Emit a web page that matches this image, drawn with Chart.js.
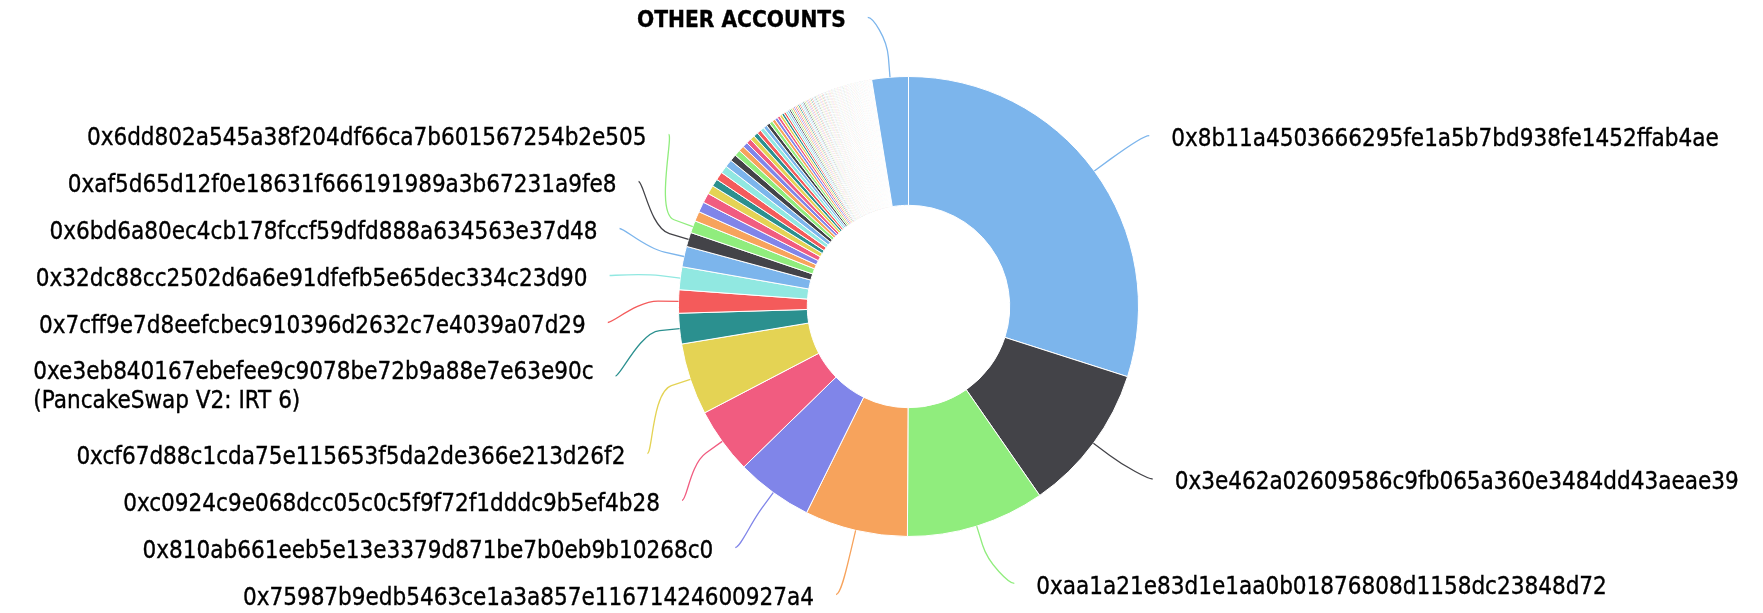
<!DOCTYPE html>
<html>
<head>
<meta charset="utf-8">
<script src="https://cdn.jsdelivr.net/npm/chart.js@4"></script>
<style>
  html, body { margin: 0; padding: 0; background: #fff; }
  canvas { display: block; }
</style>
</head>
<body>
<canvas id="holdersChart" width="1763" height="613"></canvas>
<script>
// top holders, clockwise from 12 o'clock (share of supply, %)
const accounts = [
    '0x8b11a4503666295fe1a5b7bd938fe1452ffab4ae',
    '0x3e462a02609586c9fb065a360e3484dd43aeae39',
    '0xaa1a21e83d1e1aa0b01876808d1158dc23848d72',
    '0x75987b9edb5463ce1a3a857e11671424600927a4',
    '0x810ab661eeb5e13e3379d871be7b0eb9b10268c0',
    '0xc0924c9e068dcc05c0c5f9f72f1dddc9b5ef4b28',
    '0xcf67d88c1cda75e115653f5da2de366e213d26f2',
    ['0xe3eb840167ebefee9c9078be72b9a88e7e63e90c', '(PancakeSwap V2: IRT 6)'],
    '0x7cff9e7d8eefcbec910396d2632c7e4039a07d29',
    '0x32dc88cc2502d6a6e91dfefb5e65dec334c23d90',
    '0x6bd6a80ec4cb178fccf59dfd888a634563e37d48',
    '0xaf5d65d12f0e18631f666191989a3b67231a9fe8',
    '0x6dd802a545a38f204df66ca7b601567254b2e505'
];
const accountShares = [29.89, 10.39, 9.72, 7.22, 5.39, 4.64, 5.03, 2.14, 1.63, 1.60, 1.44, 1.00, 0.86];

// smaller holders without a label
const minorShares = [
    0.69, 0.72, 0.69, 0.61, 0.53, 0.58, 0.53, 0.53, 0.47, 0.42,
    0.39, 0.36, 0.35, 0.33, 0.31, 0.29, 0.28, 0.26, 0.25, 0.24,
    0.22, 0.21, 0.19, 0.18, 0.17, 0.15, 0.14, 0.13
];
const tailShares = [
    0.12, 0.12, 0.12, 0.11, 0.11, 0.11, 0.11, 0.10, 0.10, 0.10,
    0.10, 0.10, 0.09, 0.09, 0.09, 0.09, 0.09, 0.09, 0.09, 0.08,
    0.08, 0.08, 0.08, 0.08, 0.08, 0.08, 0.08, 0.08, 0.07, 0.07,
    0.07, 0.07, 0.07, 0.07, 0.07, 0.07, 0.06, 0.06, 0.06, 0.06,
    0.06, 0.06, 0.06, 0.06, 0.06, 0.06, 0.06, 0.06, 0.06, 0.06,
    0.06, 0.06, 0.06, 0.06, 0.06, 0.05, 0.05, 0.05, 0.05, 0.05,
    0.05, 0.05, 0.05, 0.05, 0.05, 0.05, 0.05, 0.05, 0.05, 0.05,
    0.04, 0.04, 0.04, 0.04, 0.04, 0.04, 0.04, 0.04, 0.04, 0.04,
    0.04, 0.04, 0.04, 0.04, 0.04, 0.03, 0.03, 0.03, 0.03, 0.03,
    0.03, 0.03, 0.03, 0.03, 0.03, 0.03, 0.03, 0.03, 0.03
];
const otherLabel = 'OTHER ACCOUNTS';
const otherShare = 2.56;

const palette = ['#7cb5ec', '#434348', '#90ed7d', '#f7a35c', '#8085e9',
                 '#f15c80', '#e4d354', '#2b908f', '#f45b5b', '#91e8e1'];

const labels = accounts
    .concat(minorShares.map(() => ''))
    .concat(tailShares.map(() => ''))
    .concat([otherLabel]);
const shares = accountShares.concat(minorShares, tailShares, [otherShare]);
const colors = shares.map((v, i) => palette[i % palette.length]);

// label layout
const LABEL_FONT = '24px "DejaVu Sans Condensed", "DejaVu Sans", sans-serif';
const OTHER_FONT = 'bold 22.5px "DejaVu Sans Condensed", "DejaVu Sans", sans-serif';
const LABEL_RADIUS = 290;
const SLOT = 47;
const EXTRA_LINE = 37;
const LABEL_TOP = -7;
const LABEL_BOTTOM = 618;
const TEXT_SHIFT = 4;
const ELLIPSE_A = 318, ELLIPSE_B = 297, ELLIPSE_DY = 3;
const CONNECTOR_OFFSET = 20;
const GAP = 22;

function distribute(boxes, top, bottom) {
    boxes.sort((a, b) => a.target - b.target);
    let groups = boxes.map(b => ({ items: [b], size: b.size, min: b.target, max: b.target }));
    let overlapping = true;
    while (overlapping) {
        groups.forEach(g => {
            const t = (g.min + g.max) / 2;
            g.pos = Math.min(Math.max(t - g.size / 2, top), bottom - g.size);
        });
        overlapping = false;
        for (let i = groups.length - 1; i > 0; i--) {
            const a = groups[i - 1], b = groups[i];
            if (a.pos + a.size > b.pos) {
                a.items = a.items.concat(b.items);
                a.size += b.size;
                a.min = Math.min(a.min, b.min);
                a.max = Math.max(a.max, b.max);
                groups.splice(i, 1);
                overlapping = true;
            }
        }
    }
    groups.forEach(g => {
        let y = g.pos;
        g.items.forEach(b => { b.top = y; y += b.size; });
    });
}

const pieLabels = {
    id: 'pieLabels',
    afterDatasetsDraw(chart) {
        const ctx = chart.ctx;
        const meta = chart.getDatasetMeta(0);
        const left = [], right = [];
        let cx = 0, cy = 0;
        meta.data.forEach((arc, i) => {
            cx = arc.x; cy = arc.y;
            const text = chart.data.labels[i];
            if (!text) return;
            const lines = Array.isArray(text) ? text : [text];
            const mid = (arc.startAngle + arc.endAngle) / 2;
            const R = arc.outerRadius;
            const item = {
                lines: lines,
                color: colors[i],
                bold: text === otherLabel,
                isLeft: Math.cos(mid) < 0,
                tx: arc.x + Math.cos(mid) * R,
                ty: arc.y + Math.sin(mid) * R,
                bx: arc.x + Math.cos(mid) * (R + CONNECTOR_OFFSET),
                by: arc.y + Math.sin(mid) * (R + CONNECTOR_OFFSET),
                target: arc.y + Math.sin(mid) * LABEL_RADIUS,
                size: lines.length > 1 ? SLOT + EXTRA_LINE : SLOT
            };
            (item.isLeft ? left : right).push(item);
        });
        distribute(left, LABEL_TOP, LABEL_BOTTOM);
        distribute(right, LABEL_TOP, LABEL_BOTTOM);

        ctx.save();
        ctx.textBaseline = 'middle';
        left.concat(right).forEach(item => {
            const multi = item.lines.length > 1;
            const ly = multi ? item.top + 30 : item.top + SLOT / 2;
            const dy = (ly - cy - ELLIPSE_DY) / ELLIPSE_B;
            const h = ELLIPSE_A * Math.sqrt(Math.max(0, 1 - dy * dy)) + 5;
            const sign = item.isLeft ? -1 : 1;
            const ax = cx + sign * h;
            const ex = ax - sign * GAP;

            // connector
            ctx.beginPath();
            ctx.strokeStyle = item.color;
            ctx.lineWidth = 1.3;
            ctx.moveTo(ex, ly);
            ctx.bezierCurveTo(ex - sign * 5, ly, 2 * item.bx - item.tx, 2 * item.by - item.ty, item.bx, item.by);
            ctx.lineTo(item.tx, item.ty);
            ctx.stroke();

            // text, with a hairline stroke to match the heavier rendering
            ctx.fillStyle = '#000';
            ctx.strokeStyle = '#000';
            ctx.lineWidth = 0.35;
            ctx.font = item.bold ? OTHER_FONT : LABEL_FONT;
            if (multi) {
                const w = Math.max(...item.lines.map(l => ctx.measureText(l).width));
                const x0 = item.isLeft ? ax - w : ax;
                ctx.textAlign = 'left';
                item.lines.forEach((l, k) => {
                    ctx.fillText(l, x0, item.top + 27 + k * 29);
                    ctx.strokeText(l, x0, item.top + 27 + k * 29);
                });
            } else {
                ctx.textAlign = item.isLeft ? 'right' : 'left';
                ctx.fillText(item.lines[0], ax, ly + TEXT_SHIFT);
                ctx.strokeText(item.lines[0], ax, ly + TEXT_SHIFT);
            }
        });
        ctx.restore();
    }
};

const ctx = document.getElementById('holdersChart').getContext('2d');
const holdersChart = new Chart(ctx, {
    type: 'doughnut',
    data: {
        labels: labels,
        datasets: [{
            data: shares,
            backgroundColor: colors,
            borderColor: '#ffffff',
            borderWidth: 1
        }]
    },
    options: {
        responsive: false,
        animation: false,
        cutout: '44%',
        layout: { padding: { top: 76, bottom: 76, left: 608, right: 554 } },
        plugins: {
            legend: { display: false },
            tooltip: { enabled: true }
        }
    },
    plugins: [pieLabels]
});
</script>
</body>
</html>
